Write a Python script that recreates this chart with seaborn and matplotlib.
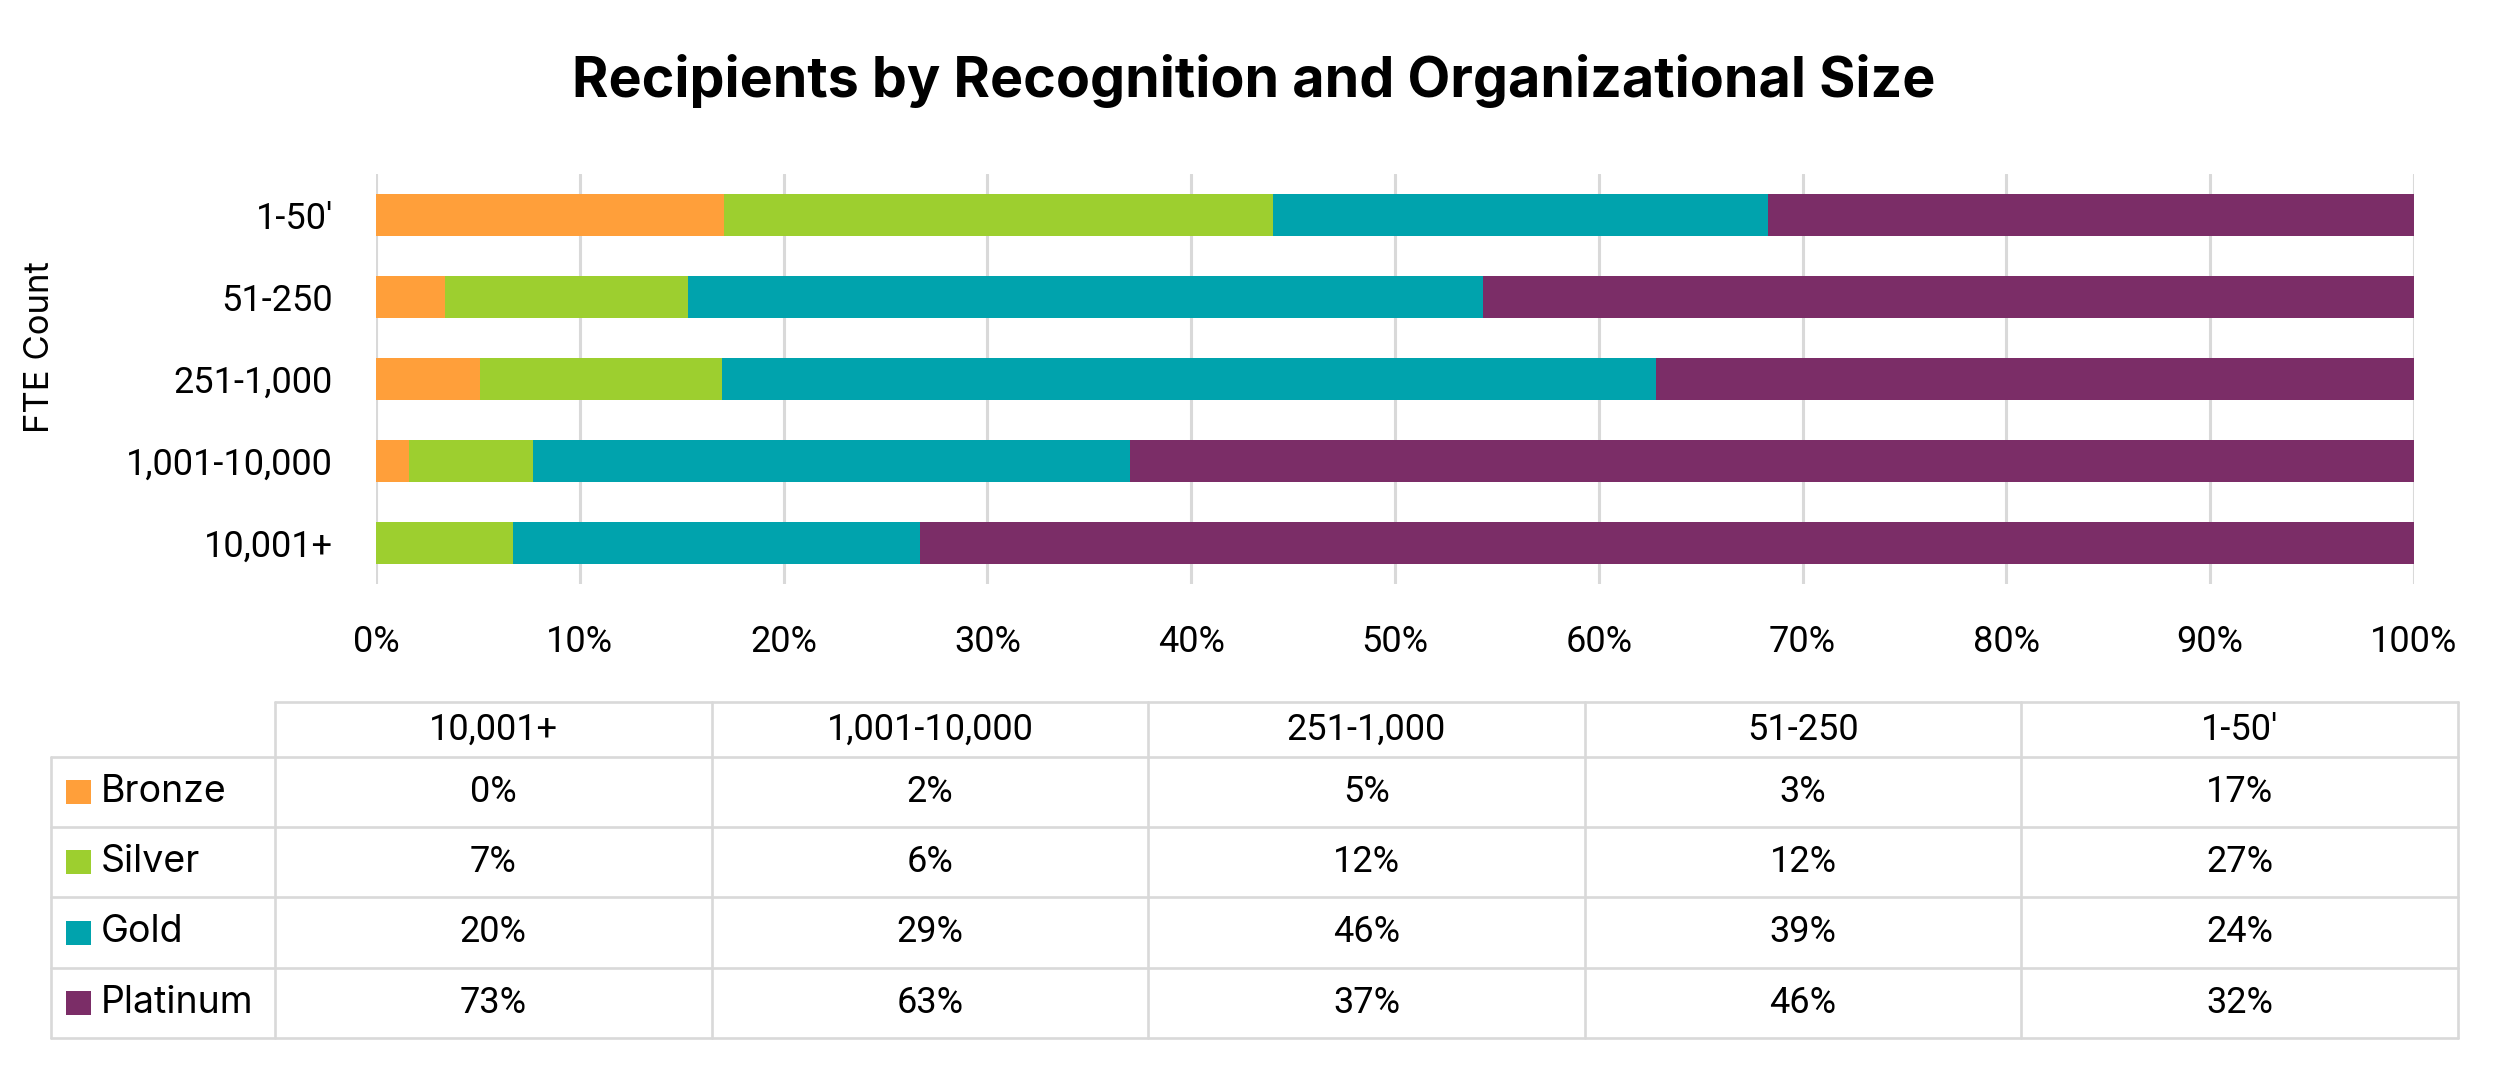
import seaborn as sns
import matplotlib.pyplot as plt
import pandas as pd
from matplotlib.patches import Rectangle

# Recipients by recognition level and organizational size (share of recipients, %)

sizes = ["1-50'", "51-250", "251-1,000", "1,001-10,000", "10,001+"]
levels = ["Bronze", "Silver", "Gold", "Platinum"]
bronze = [17.1, 3.4, 5.1, 1.6, 0.0]
silver = [26.9, 11.9, 11.9, 6.1, 6.7]
gold = [24.3, 39.0, 45.8, 29.3, 20.0]
platinum = [31.7, 45.7, 37.2, 63.0, 73.3]
x_ticks = [0, 10, 20, 30, 40, 50, 60, 70, 80, 90, 100]

colors = {"Bronze": "#FF9F3A", "Silver": "#9DCF2F", "Gold": "#00A3AD", "Platinum": "#7B2D67"}
grid_col = "#D9D9D9"

sns.set_theme(style="white")
plt.rcParams["font.family"] = ["Roboto", "DejaVu Sans"]
word_font = ["Inter", "DejaVu Sans"]

df = pd.DataFrame({"size": sizes, "Bronze": bronze, "Silver": silver,
                   "Gold": gold, "Platinum": platinum})
cum = df[levels].cumsum(axis=1)
cum["size"] = df["size"]

W, H = 2508, 1089
fig = plt.figure(figsize=(W / 100, H / 100), dpi=100)
ax = fig.add_axes([376 / W, 1 - 584 / H, (2414 - 376) / W, (584 - 174) / H])

# stacked bars: draw cumulative totals from the outermost segment inwards
for lvl in reversed(levels):
    sns.barplot(data=cum, x=lvl, y="size", order=sizes, orient="h",
                color=colors[lvl], saturation=1, width=0.51,
                errorbar=None, linewidth=0, ax=ax)

ax.set_xlim(0, 100)
ax.set_xticks(x_ticks)
ax.set_xticklabels([f"{t}%" for t in x_ticks])
ax.grid(axis="x", color=grid_col, lw=2.2)
ax.grid(axis="y", visible=False)
ax.set_axisbelow(True)
for s in ax.spines.values():
    s.set_visible(False)
ax.tick_params(axis="x", length=0, pad=29, labelsize=26, labelcolor="black")
ax.tick_params(axis="y", length=0, pad=31, labelsize=26, labelcolor="black")
ax.set_xlabel("")
ax.set_ylabel("FTE Count", fontsize=25, color="black", family=word_font)
ax.yaxis.set_label_coords(-0.157, 0.578)

fig.text(0.4998, 1 - 97 / H, "Recipients by Recognition and Organizational Size",
         ha="center", va="baseline", fontsize=40, fontweight="bold",
         color="black", family=word_font)

# data table below the chart
tax = fig.add_axes([0, 0, 1, 1])
tax.set_xlim(0, W)
tax.set_ylim(H, 0)
tax.axis("off")

col_x = [275 + 436.6 * i for i in range(len(sizes) + 1)]
row_y = [702, 757, 827, 897, 968, 1038]
lw = 1.9
tax.plot([col_x[0], col_x[-1]], [row_y[0], row_y[0]], color=grid_col, lw=lw)
for y in row_y[1:]:
    tax.plot([51, col_x[-1]], [y, y], color=grid_col, lw=lw)
tax.plot([51, 51], [row_y[1], row_y[-1]], color=grid_col, lw=lw)
for x in col_x:
    tax.plot([x, x], [row_y[0], row_y[-1]], color=grid_col, lw=lw)

table_sizes = sizes[::-1]
for j, s in enumerate(table_sizes):
    xc = (col_x[j] + col_x[j + 1]) / 2
    tax.text(xc, (row_y[0] + row_y[1]) / 2, s, ha="center", va="center",
             fontsize=26, color="black")

for i, lvl in enumerate(levels):
    yc = (row_y[i + 1] + row_y[i + 2]) / 2
    tax.add_patch(Rectangle((66, yc - 12), 25, 24, color=colors[lvl], lw=0))
    tax.text(101, yc, lvl, ha="left", va="center", fontsize=27,
             color="black", family=word_font)
    vals = df.set_index("size").loc[table_sizes, lvl].values
    for j, v in enumerate(vals):
        xc = (col_x[j] + col_x[j + 1]) / 2
        tax.text(xc, yc, f"{v:.0f}%", ha="center", va="center",
                 fontsize=26, color="black")

fig.savefig("out.png", dpi=100)
